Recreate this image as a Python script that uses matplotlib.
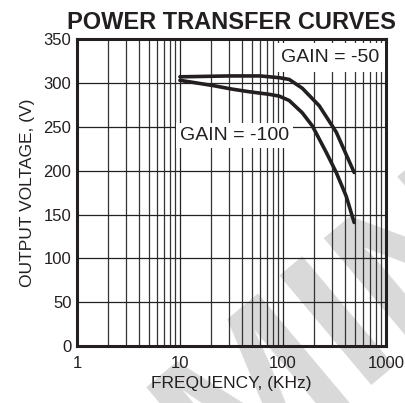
import matplotlib
matplotlib.use('Agg')
import matplotlib.pyplot as plt
from matplotlib.ticker import LogLocator, FixedLocator

plt.rcParams['font.family'] = ['Liberation Sans', 'DejaVu Sans']

# values
freq_50 = [10, 30, 60, 92, 115, 154, 225, 329, 491]
volt_50 = [307, 308, 308, 306, 304, 294, 274, 244, 198]

freq_100 = [10, 21, 32, 47, 74, 92, 115, 154, 193, 263, 329, 411, 491]
volt_100 = [303, 297, 293, 290, 287, 285, 280, 266, 251, 221, 198, 171, 141]

x_ticks = [1, 10, 100, 1000]
x_tick_labels = ['1', '10', '100', '1000']
y_ticks = [0, 50, 100, 150, 200, 250, 300, 350]

fig = plt.figure(figsize=(4.05, 4.03), dpi=100)
fig.patch.set_facecolor('white')
ax = fig.add_axes([0.19, 0.141, 0.763, 0.762])
ax.set_facecolor('none')

# watermark behind the grid
fig.text(0.66, 0.03, 'PRELIMINARY', fontsize=150, fontweight='bold',
         color='#d9d9d9', rotation=40, ha='center', va='center', zorder=-1)

ax.set_xscale('log')
ax.set_xlim(1, 1000)
ax.set_ylim(0, 350)
ax.xaxis.set_major_locator(FixedLocator(x_ticks))
ax.set_xticklabels(x_tick_labels)
ax.xaxis.set_minor_locator(LogLocator(base=10, subs=range(2, 10)))
ax.xaxis.set_minor_formatter(plt.NullFormatter())
ax.set_yticks(y_ticks)

ax.grid(which='major', color='#222222', lw=0.9)
ax.grid(which='minor', axis='x', color='#333333', lw=0.9)
ax.set_axisbelow(True)
ax.tick_params(which='both', length=0, labelsize=12, colors='#231f20')
ax.tick_params(axis='x', pad=7)
ax.tick_params(axis='y', pad=4)
for s in ax.spines.values():
    s.set_linewidth(2.2)
    s.set_color('#231f20')

ax.plot(freq_50, volt_50, color='#231f20', lw=2.6, solid_capstyle='round', zorder=3)
ax.plot(freq_100, volt_100, color='#231f20', lw=2.6, solid_capstyle='round', zorder=3)

ax.text(0.82, 0.94, 'GAIN = -50', transform=ax.transAxes, fontsize=14,
        ha='center', va='center', color='#231f20', zorder=4,
        bbox=dict(facecolor='white', edgecolor='none', pad=4))
ax.text(0.51, 0.687, 'GAIN = -100', transform=ax.transAxes, fontsize=14,
        ha='center', va='center', color='#231f20', zorder=4,
        bbox=dict(facecolor='white', edgecolor='none', pad=3))

ax.set_title('POWER TRANSFER CURVES', fontsize=17, fontweight='bold',
             color='#231f20', pad=7)
ax.set_xlabel('FREQUENCY, (KHz)', fontsize=12.5, color='#231f20', labelpad=4)
ax.set_ylabel('OUTPUT VOLTAGE, (V)', fontsize=12.5, color='#231f20', labelpad=6)

fig.savefig('out.png', dpi=100, facecolor='white')
